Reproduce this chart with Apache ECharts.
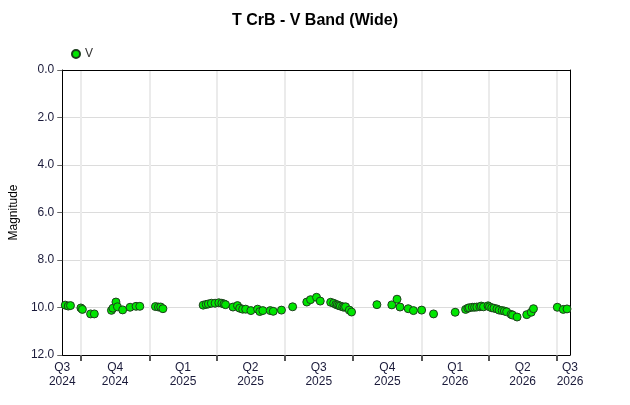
<!DOCTYPE html>
<html>
<head>
<meta charset="utf-8">
<title>T CrB - V Band (Wide)</title>
<script src="https://cdn.jsdelivr.net/npm/echarts@6/dist/echarts.min.js"></script>
<style>
  html, body { margin: 0; padding: 0; background: #fff; }
  #chart { width: 630px; height: 405px; }
</style>
</head>
<body>
<div id="chart"></div>
<script>
// 观测日期 (UTC)
var obsDates = [
  '2024-09-10', '2024-09-14', '2024-09-17', '2024-10-01', '2024-10-03', '2024-10-14', '2024-10-19',
  '2024-11-11', '2024-11-13', '2024-11-17', '2024-11-19', '2024-11-26', '2024-12-06', '2024-12-14',
  '2024-12-19', '2025-01-09', '2025-01-13', '2025-01-16', '2025-01-19',
  '2025-03-14', '2025-03-18', '2025-03-21', '2025-03-25', '2025-03-30', '2025-04-04', '2025-04-08',
  '2025-04-11', '2025-04-13', '2025-04-23', '2025-04-29', '2025-05-02', '2025-05-06', '2025-05-10',
  '2025-05-17', '2025-05-26', '2025-05-29', '2025-06-02', '2025-06-12', '2025-06-16', '2025-06-27',
  '2025-07-12', '2025-07-31', '2025-08-05', '2025-08-13', '2025-08-18',
  '2025-09-01', '2025-09-05', '2025-09-08', '2025-09-10', '2025-09-12', '2025-09-14', '2025-09-17',
  '2025-09-19', '2025-09-21', '2025-09-26', '2025-09-29',
  '2025-11-02', '2025-11-22', '2025-11-29', '2025-12-03', '2025-12-14', '2025-12-21', '2026-01-01',
  '2026-01-17', '2026-02-15',
  '2026-03-01', '2026-03-04', '2026-03-06', '2026-03-10', '2026-03-13', '2026-03-16', '2026-03-20',
  '2026-03-22', '2026-03-25', '2026-03-31', '2026-04-02', '2026-04-05', '2026-04-08', '2026-04-12',
  '2026-04-15', '2026-04-19', '2026-04-22', '2026-04-25', '2026-05-01', '2026-05-03', '2026-05-09',
  '2026-05-22', '2026-05-28', '2026-05-31', '2026-07-02', '2026-07-10', '2026-07-15'
];
// V 星等
var vMags = [
  9.90, 9.94, 9.92, 10.02, 10.08, 10.27, 10.27,
  10.12, 10.03, 9.77, 9.97, 10.10, 9.99, 9.95,
  9.95, 9.96, 9.98, 9.98, 10.05,
  9.90, 9.87, 9.85, 9.82, 9.82, 9.80, 9.82,
  9.85, 9.88, 9.98, 9.92, 10.03, 10.07, 10.07,
  10.13, 10.07, 10.17, 10.13, 10.13, 10.16, 10.11,
  9.97, 9.77, 9.67, 9.57, 9.73,
  9.78, 9.82, 9.87, 9.89, 9.92, 9.94, 9.97,
  9.99, 9.97, 10.11, 10.19,
  9.88, 9.89, 9.65, 9.98, 10.05, 10.13, 10.11,
  10.27, 10.20,
  10.08, 10.03, 10.01, 9.99, 9.99, 9.98, 9.97,
  9.94, 9.97, 9.93, 9.97, 10.01, 10.03, 10.06,
  10.11, 10.13, 10.15, 10.18, 10.29, 10.32, 10.40,
  10.30, 10.20, 10.05, 9.99, 10.08, 10.06
];
// 季度分界线
var quarterStarts = ['2024-10-01', '2025-01-01', '2025-04-01', '2025-07-01', '2025-10-01', '2026-01-01', '2026-04-01', '2026-07-01'];
// 季度标签 (首尾两个是不完整的季度)
var quarterNames = ['Q3', 'Q4', 'Q1', 'Q2', 'Q3', 'Q4', 'Q1', 'Q2', 'Q3'];
var quarterYears = ['2024', '2024', '2025', '2025', '2025', '2025', '2026', '2026', '2026'];
var xStart = '2024-09-06';
var xEnd = '2026-07-19';
var magTicks = [0, 2, 4, 6, 8, 10, 12];

function ts(s) {
  var p = s.split('-');
  return Date.UTC(+p[0], +p[1] - 1, +p[2]);
}

var xMin = ts(xStart), xMax = ts(xEnd);
var tickVals = quarterStarts.map(ts);
// 标签放在每个季度中点，首尾放在轴的两端
var edges = [xMin].concat(tickVals).concat([xMax]);
var labelVals = [];
var labelText = {};
for (var i = 0; i < quarterNames.length; i++) {
  var v;
  if (i == 0) v = xMin;
  else if (i == quarterNames.length - 1) v = xMax;
  else v = Math.round((edges[i] + edges[i + 1]) / 2);
  labelVals.push(v);
  labelText[v] = quarterNames[i] + '\n' + quarterYears[i];
}

var points = obsDates.map(function (d, i) { return [ts(d), vMags[i]]; });

var font = 'Liberation Sans, Arial, sans-serif';
// 上边和右边的黑框用两条只画轴线的轴
var frameAxis = {
  axisLine: { show: true, onZero: false, lineStyle: { color: '#000', width: 1 } },
  axisTick: { show: false },
  axisLabel: { show: false },
  splitLine: { show: false }
};
var myChart = echarts.init(document.getElementById('chart'));
myChart.setOption({
  animation: false,
  textStyle: { fontFamily: font },
  title: {
    text: 'T CrB - V Band (Wide)',
    left: 'center',
    top: 8,
    textStyle: { fontSize: 16, fontWeight: 'bold', color: '#000', fontFamily: font }
  },
  legend: {
    left: 66,
    top: 43,
    itemWidth: 8,
    itemHeight: 8,
    itemGap: 6,
    data: [{ name: 'V', icon: 'circle' }],
    textStyle: { fontSize: 12, color: '#333', fontFamily: font }
  },
  grid: {
    left: 61,
    right: 60,
    top: 70,
    bottom: 50
  },
  xAxis: [{
    type: 'value',
    min: xMin,
    max: xMax,
    axisLine: { show: true, onZero: false, lineStyle: { color: '#000', width: 1 } },
    axisTick: { show: true, length: 6, customValues: tickVals, lineStyle: { color: '#555', width: 2 } },
    splitLine: { show: true, lineStyle: { color: '#ebebeb', width: 2 } },
    axisLabel: {
      customValues: labelVals,
      margin: 6,
      fontSize: 12,
      lineHeight: 14,
      color: '#1a1a3a',
      fontFamily: font,
      formatter: function (val) { return labelText[val] || ''; }
    }
  }, Object.assign({ type: 'value', position: 'top', min: xMin, max: xMax }, frameAxis)],
  yAxis: [{
    type: 'value',
    inverse: true,
    min: 0,
    max: 12,
    interval: 2,
    name: 'Magnitude',
    nameLocation: 'middle',
    nameGap: 40,
    nameTextStyle: { fontSize: 12, color: '#000', fontFamily: font },
    axisLine: { show: true, onZero: false, lineStyle: { color: '#000', width: 1 } },
    axisTick: { show: true, length: 5, lineStyle: { color: '#666' } },
    splitLine: { show: true, lineStyle: { color: '#dcdcdc', width: 1 } },
    axisLabel: {
      margin: 8,
      fontSize: 12,
      color: '#1a1a3a',
      fontFamily: font,
      customValues: magTicks,
      formatter: function (v) { return v.toFixed(1); }
    }
  }, Object.assign({ type: 'value', position: 'right', inverse: true, min: 0, max: 12 }, frameAxis)],
  series: [{
    name: 'V',
    type: 'scatter',
    symbol: 'circle',
    symbolSize: 8,
    itemStyle: { color: '#00e600', borderColor: '#1d3d1d', borderWidth: 1, opacity: 1 },
    data: points
  }]
});
</script>
</body>
</html>
